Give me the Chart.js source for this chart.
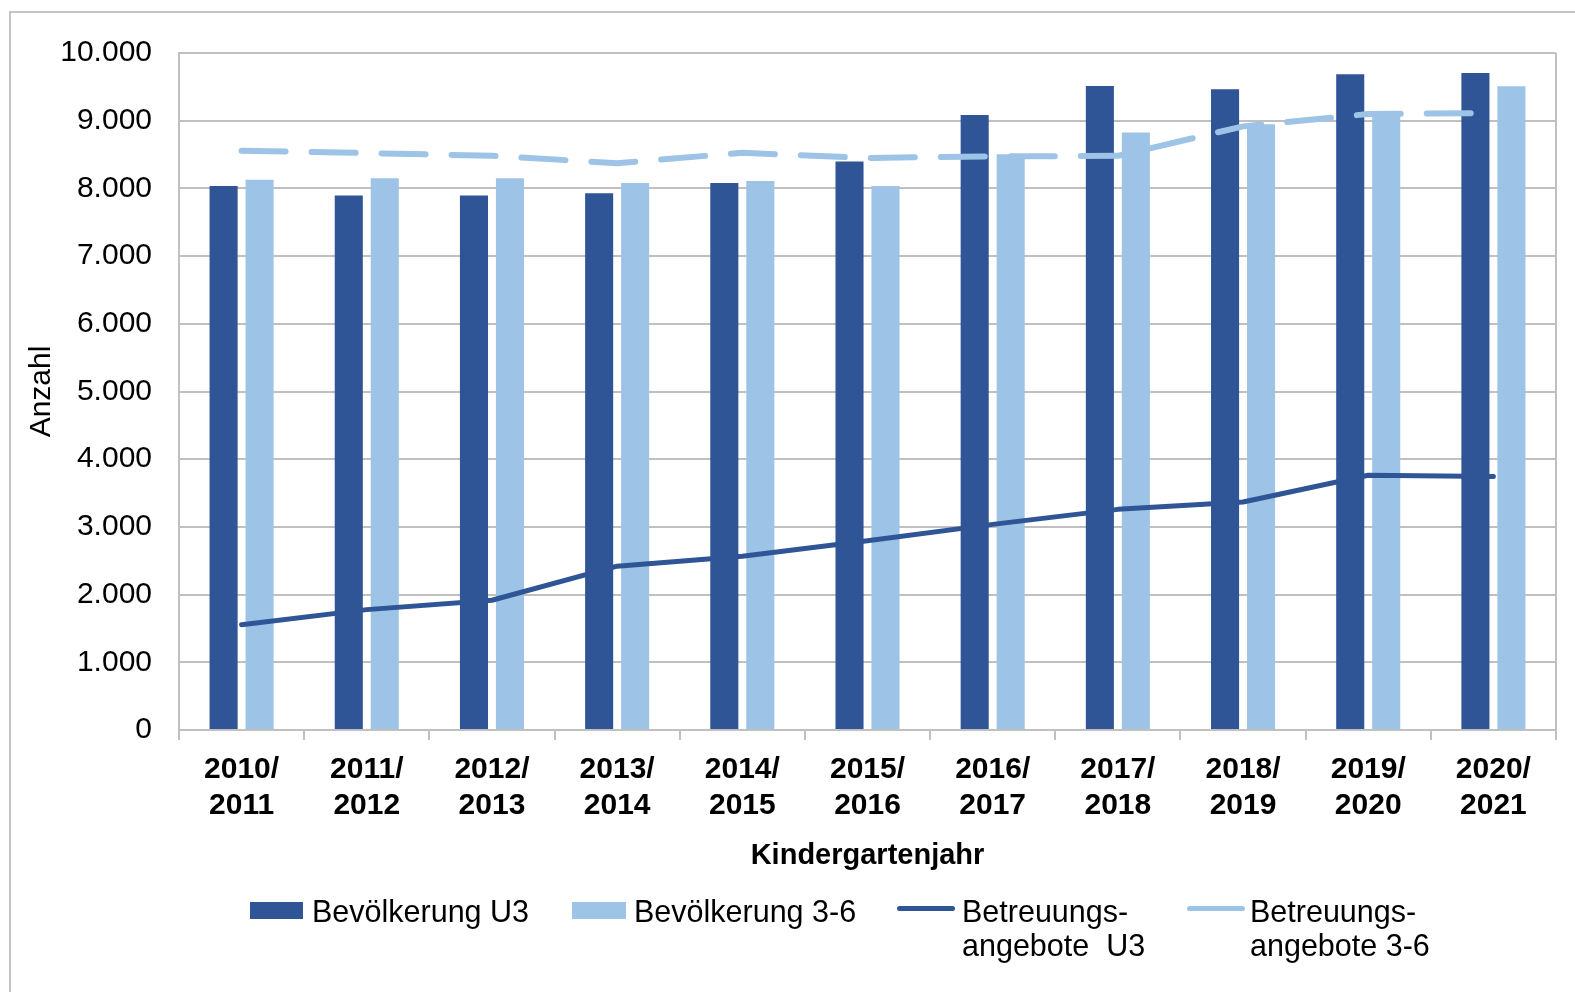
<!DOCTYPE html>
<html>
<head>
<meta charset="utf-8">
<script src="https://cdn.jsdelivr.net/npm/chart.js@4/dist/chart.umd.min.js"></script>
<style>
  html, body { margin: 0; padding: 0; background: #fff; overflow: hidden; }
  body { width: 1575px; height: 992px; position: relative; font-family: "Liberation Sans", Arial, sans-serif; }
  #frame { position: absolute; left: 9px; top: 11px; width: 1600px; height: 1000px; border: 2px solid #C4C4C4; box-sizing: border-box; }
  #wrap { position: absolute; left: 0; top: 0; width: 1575px; height: 992px; }
  .sw { position: absolute; }
  .lt { position: absolute; font-size: 30.5px; line-height: 34px; color: #000; white-space: pre; }
</style>
</head>
<body>
<div id="frame"></div>
<div id="wrap"><canvas id="c" width="1575" height="992"></canvas></div>
<div class="sw" style="left:250px;top:902px;width:53px;height:17px;background:#2F5597"></div>
<div class="lt" style="left:312px;top:894px">Bevölkerung U3</div>
<div class="sw" style="left:572px;top:902px;width:54px;height:17px;background:#9DC3E6"></div>
<div class="lt" style="left:634px;top:894px">Bevölkerung 3-6</div>
<div class="sw" style="left:897px;top:906px;width:58px;height:5px;border-radius:3px;background:#2F5597"></div>
<div class="lt" style="left:962px;top:894px">Betreuungs-
angebote  U3</div>
<div class="sw" style="left:1187px;top:906px;width:58px;height:5px;border-radius:3px;background:#9DC3E6"></div>
<div class="lt" style="left:1250px;top:894px">Betreuungs-
angebote 3-6</div>
<script>
const categories = [
  ["2010/", "2011"], ["2011/", "2012"], ["2012/", "2013"], ["2013/", "2014"],
  ["2014/", "2015"], ["2015/", "2016"], ["2016/", "2017"], ["2017/", "2018"],
  ["2018/", "2019"], ["2019/", "2020"], ["2020/", "2021"]
];
const bevoelkerungU3 = [8037, 7894, 7894, 7928, 8081, 8398, 9084, 9513, 9464, 9686, 9706];
const bevoelkerung36 = [8126, 8151, 8151, 8081, 8111, 8037, 8505, 8827, 8946, 9123, 9509];
const angeboteU3 = [1556, 1778, 1916, 2420, 2568, 2795, 3037, 3259, 3368, 3763, 3743];
const angebote36 = [8556, 8522, 8481, 8373, 8526, 8450, 8472, 8481, 8916, 9099, 9114];
const yTicks = [0, 1000, 2000, 3000, 4000, 5000, 6000, 7000, 8000, 9000, 10000];

const DARK = "#2F5597";
const LIGHT = "#9DC3E6";
const GRID = "#C0C0C0";
const FONT = "'Liberation Sans', Arial, sans-serif";

function fmt(v) {
  return String(v).replace(/\B(?=(\d{3})+(?!\d))/g, ".");
}

const plotBorder = {
  id: "plotBorder",
  beforeDatasetsDraw(chart) {
    const { ctx, chartArea } = chart;
    ctx.save();
    ctx.strokeStyle = GRID;
    ctx.lineWidth = 2;
    ctx.beginPath();
    ctx.moveTo(chartArea.right, chartArea.top);
    ctx.lineTo(chartArea.right, chartArea.bottom);
    ctx.stroke();
    ctx.restore();
  }
};

new Chart(document.getElementById("c"), {
  type: "bar",
  data: {
    labels: categories,
    datasets: [
      { type: "bar", label: "Bevölkerung U3", data: bevoelkerungU3, backgroundColor: DARK, order: 2,
        categoryPercentage: 0.575, barPercentage: 0.78 },
      { type: "bar", label: "Bevölkerung 3-6", data: bevoelkerung36, backgroundColor: LIGHT, order: 2,
        categoryPercentage: 0.575, barPercentage: 0.78 },
      { type: "line", label: "Betreuungsangebote U3", data: angeboteU3, borderColor: DARK, borderWidth: 5,
        pointRadius: 0, tension: 0, borderCapStyle: "round", borderJoinStyle: "round", order: 1 },
      { type: "line", label: "Betreuungsangebote 3-6", data: angebote36, borderColor: LIGHT, borderWidth: 6,
        borderDash: [44, 26], pointRadius: 0, tension: 0, borderCapStyle: "round", borderJoinStyle: "round", order: 0 }
    ]
  },
  options: {
    responsive: false,
    animation: false,
    layout: { padding: { left: 0, top: 53, right: 19, bottom: 115 } },
    plugins: { legend: { display: false }, tooltip: { enabled: false } },
    scales: {
      x: {
        offset: true,
        grid: { offset: true, drawOnChartArea: false, drawTicks: true, tickLength: 10, color: GRID, lineWidth: 2 },
        border: { display: true, color: GRID, width: 2 },
        ticks: { color: "#000", padding: 12, maxRotation: 0, autoSkip: false,
          font: { family: FONT, size: 30, weight: "bold", lineHeight: 1.2 } },
        title: { display: true, text: "Kindergartenjahr", color: "#000",
          font: { family: FONT, size: 29, weight: "bold", lineHeight: 1.2 }, padding: { top: 0, bottom: 4 } },
        afterFit(scale) { scale.height = 147; }
      },
      y: {
        min: 0, max: 10000,
        afterBuildTicks(scale) { scale.ticks = yTicks.map(v => ({ value: v })); },
        grid: { color: GRID, lineWidth: 2, drawTicks: false },
        border: { display: true, color: GRID, width: 2 },
        ticks: { color: "#000", padding: 27, callback: v => fmt(v),
          font: { family: FONT, size: 30 } },
        title: { display: true, text: "Anzahl", color: "#000",
          font: { family: FONT, size: 30, lineHeight: 1.2 }, padding: { top: 24, bottom: 0 } },
        afterFit(scale) { scale.width = 179; }
      }
    }
  },
  plugins: [plotBorder]
});
</script>
</body>
</html>
